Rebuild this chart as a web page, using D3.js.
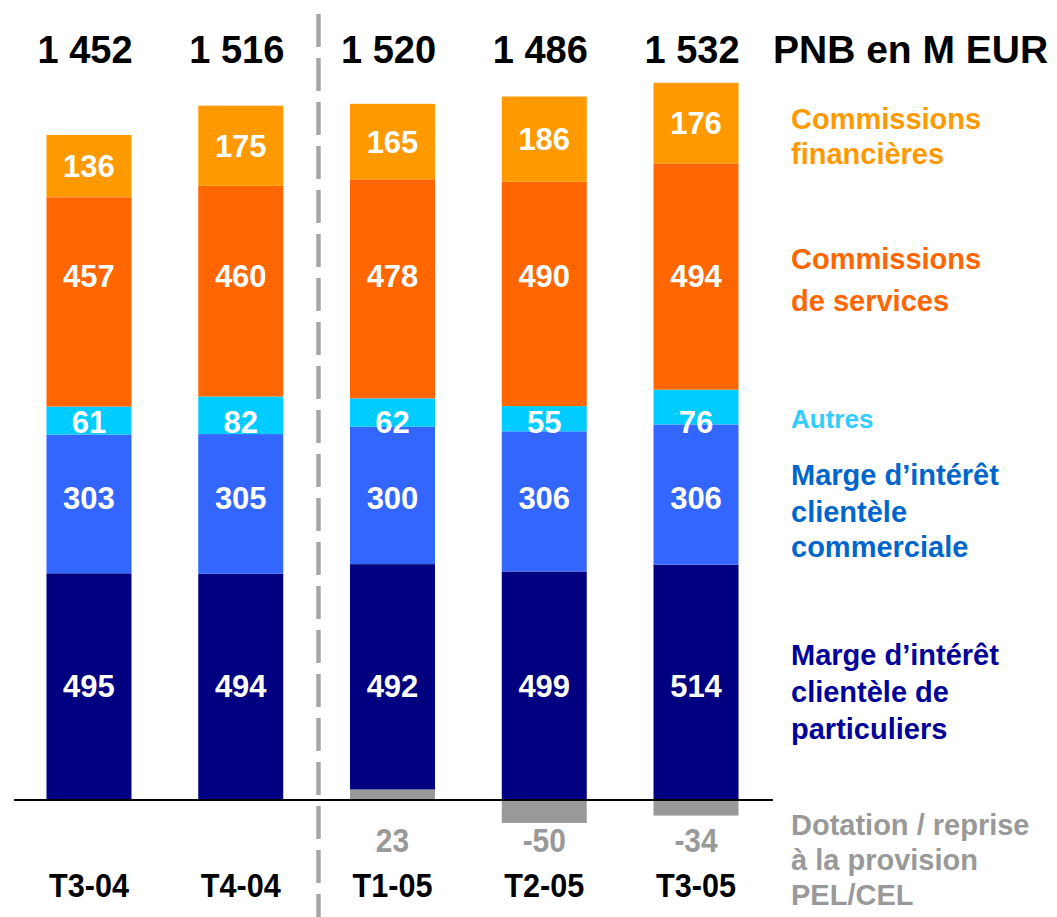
<!DOCTYPE html>
<html>
<head>
<meta charset="utf-8">
<script src="https://cdn.jsdelivr.net/npm/d3@7"></script>
<style>
    body { margin: 0; background: #ffffff; }
    text { font-family: "Liberation Sans", Arial, sans-serif; font-weight: bold; }
</style>
</head>
<body>
<div id="chart"></div>
<script>
// Data (M EUR)
var quarters = ["T3-04", "T4-04", "T1-05", "T2-05", "T3-05"];
var totals = [1452, 1516, 1520, 1486, 1532];
var pelCel = [0, 0, 23, -50, -34];
var margeParticuliers = [495, 494, 492, 499, 514];
var margeCommerciale = [303, 305, 300, 306, 306];
var autres = [61, 82, 62, 55, 76];
var commServices = [457, 460, 478, 490, 494];
var commFinancieres = [136, 175, 165, 186, 176];

var svgWidth = 1057;
var svgHeight = 917;
var baseY = 800;

var svg = d3.select("#chart")
    .append("svg")
    .attr("width", svgWidth)
    .attr("height", svgHeight);

// Build table for the stack
var table = quarters.map(function(q, i) {
    return {
        quarter: q,
        pel: pelCel[i],
        part: margeParticuliers[i],
        comm: margeCommerciale[i],
        autres: autres[i],
        serv: commServices[i],
        fin: commFinancieres[i]
    };
});

// series styling, bottom to top (labelY null = centre of segment)
var series = [
    { key: "pel", color: "#999999", labelY: null },
    { key: "part", color: "#000080", labelY: 686 },
    { key: "comm", color: "#3366FF", labelY: 498 },
    { key: "autres", color: "#00CCFF", labelY: 422 },
    { key: "serv", color: "#FF6600", labelY: 276 },
    { key: "fin", color: "#FF9900", labelY: null }
];

var stack = d3.stack()
    .keys(series.map(s => s.key))
    .offset(d3.stackOffsetDiverging);
var stacked = stack(table);

// Scales
var xScale = d3.scaleBand()
    .domain(quarters)
    .range([46.5, 738.5])
    .paddingInner(0.44)
    .paddingOuter(0);

var yScale = d3.scaleLinear()
    .domain([0, 1600])
    .range([baseY, baseY - 1600 * 0.458]);

var fmt = d3.formatLocale({ decimal: ",", thousands: " ", grouping: [3], currency: ["", ""] }).format(",");

// Bars
var layers = svg.selectAll("g.layer")
    .data(stacked)
    .enter()
    .append("g")
    .attr("class", "layer")
    .attr("fill", (d, i) => series[i].color);

layers.selectAll("rect")
    .data(d => d)
    .enter()
    .append("rect")
    .attr("x", d => xScale(d.data.quarter))
    .attr("y", d => yScale(d[1]))
    .attr("width", xScale.bandwidth())
    .attr("height", d => yScale(d[0]) - yScale(d[1]));

// Values inside bars (not the PEL/CEL layer)
stacked.forEach(function(layer, i) {
    if (series[i].key === "pel") return;
    svg.append("g")
        .selectAll("text")
        .data(layer)
        .enter()
        .append("text")
        .attr("x", d => xScale(d.data.quarter) + xScale.bandwidth() / 2)
        .attr("y", d => series[i].labelY !== null ? series[i].labelY : (yScale(d[0]) + yScale(d[1])) / 2)
        .attr("dy", "0.36em")
        .attr("text-anchor", "middle")
        .attr("font-size", "31px")
        .attr("fill", "#ffffff")
        .text(d => d[1] - d[0]);
});

// Baseline
svg.append("line")
    .attr("x1", 14)
    .attr("x2", 773)
    .attr("y1", yScale(0))
    .attr("y2", yScale(0))
    .attr("stroke", "#000000")
    .attr("stroke-width", 2);

// Dashed separator between 2004 and 2005
svg.append("line")
    .attr("x1", 318.5)
    .attr("x2", 318.5)
    .attr("y1", 14)
    .attr("y2", svgHeight)
    .attr("stroke", "#A6A6A6")
    .attr("stroke-width", 4.5)
    .attr("stroke-dasharray", "33,11");

// Totals on top
svg.append("g")
    .selectAll("text")
    .data(totals)
    .enter()
    .append("text")
    .attr("x", (d, i) => xScale(quarters[i]) + xScale.bandwidth() / 2 - 4)
    .attr("y", 63)
    .attr("text-anchor", "middle")
    .attr("font-size", "38px")
    .attr("fill", "#000000")
    .text(d => fmt(d));

svg.append("text")
    .attr("x", 773)
    .attr("y", 63)
    .attr("font-size", "39px")
    .attr("fill", "#000000")
    .text("PNB en M EUR");

// PEL/CEL values under the axis (condensed look)
svg.append("g")
    .selectAll("text")
    .data(table.filter(d => d.pel !== 0))
    .enter()
    .append("text")
    .attr("transform", d => `translate(${xScale(d.quarter) + xScale.bandwidth() / 2}, 852) scale(0.88, 1)`)
    .attr("text-anchor", "middle")
    .attr("font-size", "34px")
    .attr("fill", "#999999")
    .text(d => d.pel);

// Quarter labels
svg.append("g")
    .selectAll("text")
    .data(quarters)
    .enter()
    .append("text")
    .attr("transform", d => `translate(${xScale(d) + xScale.bandwidth() / 2}, 897) scale(0.9, 1)`)
    .attr("text-anchor", "middle")
    .attr("font-size", "34px")
    .attr("fill", "#000000")
    .text(d => d);

// Legend on the right
var legend = [
    { lines: ["Commissions", "financières"], ys: [129, 164], color: "#FF9900", size: 29 },
    { lines: ["Commissions", "de services"], ys: [269, 311], color: "#FF6600", size: 29 },
    { lines: ["Autres"], ys: [428], color: "#33CCFF", size: 26 },
    { lines: ["Marge d\u2019intérêt", "clientèle", "commerciale"], ys: [485, 522, 557], color: "#0066CC", size: 29 },
    { lines: ["Marge d\u2019intérêt", "clientèle de", "particuliers"], ys: [665, 702, 739], color: "#000099", size: 29 },
    { lines: ["Dotation / reprise", "à la provision", "PEL/CEL"], ys: [835, 870, 905], color: "#999999", size: 29 }
];

legend.forEach(function(item) {
    svg.append("g")
        .selectAll("text")
        .data(item.lines)
        .enter()
        .append("text")
        .attr("x", 791)
        .attr("y", (d, i) => item.ys[i])
        .attr("font-size", item.size + "px")
        .attr("fill", item.color)
        .text(d => d);
});
</script>
</body>
</html>
